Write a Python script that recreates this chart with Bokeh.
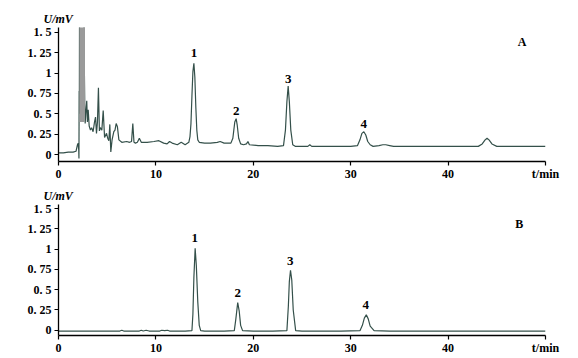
from bokeh.plotting import figure
from bokeh.layouts import column
from bokeh.models import FixedTicker, Range1d, Title
from bokeh.core.properties import value
from bokeh.embed import file_html
from bokeh.resources import INLINE

# ---- data: chromatogram A (sample) ----
tA = [0, 0.5, 1.0, 1.5, 1.8, 1.95, 2.02, 2.08, 2.1, 2.12, 2.14, 2.16, 2.2, 2.3, 2.4, 2.5, 2.6,
      2.66, 2.7, 2.74, 2.8, 2.9, 2.97, 3.05, 3.15, 3.28, 3.4, 3.55, 3.7, 3.8, 3.9, 4.0, 4.1,
      4.2, 4.3, 4.45, 4.59, 4.73, 4.93, 5.05, 5.17, 5.27, 5.37, 5.5, 5.68, 5.8, 5.92, 6.05,
      6.2, 6.5, 7.0, 7.3, 7.5, 7.63, 7.75, 7.9, 8.1, 8.3, 8.5, 9.1, 9.8, 10.3, 10.8, 11.15,
      11.4, 11.67, 12.2, 12.6, 13.0, 13.38, 13.5, 13.6, 13.7, 13.8, 13.9, 14.0, 14.1, 14.2,
      14.3, 14.45, 15.0, 15.6, 16.3, 16.6, 17.0, 17.7, 17.9, 18.0, 18.1, 18.24, 18.35, 18.5,
      18.7, 19.0, 19.3, 19.45, 19.6, 20.5, 21.5, 22.5, 23.1, 23.3, 23.45, 23.58, 23.7, 23.85,
      24.05, 24.3, 25.0, 25.6, 25.8, 26.0, 27, 28, 29, 30.0, 30.7, 30.95, 31.15, 31.35, 31.55,
      31.75, 32.0, 32.3, 32.9, 33.3, 33.6, 34.0, 34.4, 36, 38, 40, 42, 43.1, 43.5, 43.8, 44.0,
      44.2, 44.5, 45.0, 46, 48, 50]
uA = [0.02, 0.02, 0.03, 0.03, 0.04, 0.12, 0.14, 0.05, -0.05, 0.78, 0.5, 1.9, 1.9, 1.9, 1.9, 1.9, 1.9,
      1.0, 0.6, 0.38, 0.5, 0.66, 0.4, 0.55, 0.35, 0.30, 0.33, 0.28, 0.4, 0.46, 0.26, 0.4, 0.82,
      0.29, 0.33, 0.3, 0.54, 0.21, 0.26, 0.2, 0.17, 0.37, 0.03, 0.18, 0.28, 0.3, 0.38, 0.34,
      0.18, 0.15, 0.16, 0.15, 0.16, 0.38, 0.15, 0.14, 0.15, 0.2, 0.15, 0.15, 0.16, 0.17, 0.14, 0.13,
      0.16, 0.14, 0.12, 0.15, 0.12, 0.15, 0.22, 0.38, 0.72, 1.02, 1.12, 0.95, 0.58, 0.3,
      0.18, 0.15, 0.14, 0.14, 0.15, 0.16, 0.14, 0.14, 0.2, 0.3, 0.4, 0.44, 0.36, 0.2,
      0.13, 0.12, 0.13, 0.16, 0.12, 0.11, 0.11, 0.1, 0.11, 0.3, 0.65, 0.84, 0.65, 0.3,
      0.12, 0.1, 0.1, 0.1, 0.12, 0.1, 0.1, 0.1, 0.1, 0.1, 0.11, 0.18, 0.26, 0.28, 0.24,
      0.16, 0.12, 0.1, 0.11, 0.12, 0.12, 0.11, 0.1, 0.1, 0.1, 0.1, 0.1, 0.1, 0.13, 0.18, 0.2,
      0.18, 0.13, 0.1, 0.1, 0.1, 0.1]
# off-scale solvent front block (grey) in A
blockA_t = [2.14, 2.72]
blockA_lo = [0.4, 0.4]
blockA_hi = [1.9, 1.9]

# ---- data: chromatogram B (standards) ----
tB = [0, 2, 4, 6.3, 6.5, 6.7, 8.3, 8.5, 8.7, 9.0, 9.3, 10.4, 10.6, 10.9, 11.2, 11.4, 12, 13,
      13.7, 13.8, 13.9, 14.03, 14.15, 14.3, 14.45, 14.6, 15, 16, 17, 18.05, 18.2, 18.4, 18.55,
      18.7, 18.9, 20, 22, 23.45, 23.6, 23.7, 23.82, 23.95, 24.1, 24.35, 25, 27, 29, 30.95,
      31.2, 31.4, 31.6, 31.8, 32.0, 32.4, 34, 38, 42, 46, 50]
uB = [-0.01, -0.01, -0.01, -0.01, 0.0, -0.01, -0.01, 0.0, -0.01, 0.0, -0.01, -0.01, 0.0, -0.005, 0.0, -0.01, -0.01, -0.01,
      -0.005, 0.2, 0.65, 1.01, 0.8, 0.35, 0.06, -0.005, -0.01, -0.01, -0.01, -0.005, 0.13, 0.34, 0.24,
      0.06, -0.005, -0.01, -0.01, -0.005, 0.3, 0.6, 0.74, 0.62, 0.25, -0.005, -0.01, -0.01, -0.01, -0.005,
      0.06, 0.15, 0.19, 0.14, 0.05, -0.005, -0.01, -0.01, -0.01, -0.01, -0.01]

peak_names = ["1", "2", "3", "4"]
peakA_t = [13.9, 18.24, 23.58, 31.35]
peakA_lab_y = [1.25, 0.53, 0.93, 0.38]
peakB_t = [14.0, 18.4, 23.8, 31.55]
peakB_lab_y = [1.14, 0.46, 0.86, 0.31]

x_ticks = [0, 10, 20, 30, 40, 50]
x_tick_labels = {50: "t/min"}
y_ticks = [0, 0.25, 0.5, 0.75, 1.0, 1.25, 1.5]
y_tick_labels = {0: "0", 0.25: "0. 25", 0.5: "0. 5", 0.75: "0. 75", 1: "1", 1.25: "1. 25", 1.5: "1. 5"}
y_title = "U/mV"

FONT = "Liberation Serif"
LINE = "#34504a"


def make_panel(t, u, pk_t, pk_y, tag, tag_xy, yr, h, btop, bbot):
    p = figure(width=565, height=h, output_backend="svg", toolbar_location=None,
               x_range=Range1d(0, 50), y_range=Range1d(*yr),
               min_border_left=58, min_border_right=20, min_border_top=btop,
               min_border_bottom=bbot)
    p.title = Title(text=y_title, align="left", offset=-15, standoff=3,
                    text_font=FONT, text_font_style="bold italic", text_font_size="12px",
                    text_color="black")
    p.outline_line_color = None
    p.grid.visible = False
    p.background_fill_color = "white"
    p.border_fill_color = "white"
    for ax in (p.xaxis[0], p.yaxis[0]):
        ax.axis_line_color = "black"
        ax.axis_line_width = 1.3
        ax.major_tick_line_color = "black"
        ax.major_tick_line_width = 1.2
        ax.major_tick_out = 4
        ax.major_tick_in = 0
        ax.minor_tick_line_color = None
        ax.major_label_text_font = FONT
        ax.major_label_text_font_style = "bold"
        ax.major_label_text_font_size = "12px"
        ax.major_label_text_color = "black"
        ax.major_label_standoff = 1
    p.yaxis.major_label_standoff = 3
    p.xaxis.ticker = FixedTicker(ticks=x_ticks)
    p.xaxis.major_label_overrides = x_tick_labels
    p.yaxis.ticker = FixedTicker(ticks=y_ticks)
    p.yaxis.major_label_overrides = y_tick_labels

    p.line(t, u, line_color=LINE, line_width=1.2)
    p.text(x=pk_t, y=pk_y, text=peak_names, text_font=value(FONT), text_font_style="bold",
           text_font_size="13px", text_align="center", text_baseline="middle", text_color="black")
    p.text(x=[tag_xy[0]], y=[tag_xy[1]], text=[tag], text_font=value(FONT), text_font_style="bold",
           text_font_size="12px", text_align="center", text_baseline="middle", text_color="black")
    return p


pA = make_panel(tA, uA, peakA_t, peakA_lab_y, "A", (47.6, 1.38), (-0.086, 1.561), 183, 27, 20)
pA.varea(x=blockA_t, y1=blockA_lo, y2=blockA_hi, fill_color="#9a9a9a")

pB = make_panel(tB, uB, peakB_t, peakB_lab_y, "B", (47.3, 1.31), (-0.065, 1.551), 174, 21, 17)

layout = column(pA, pB, spacing=0)
open("out.html", "w").write(file_html(layout, INLINE))
